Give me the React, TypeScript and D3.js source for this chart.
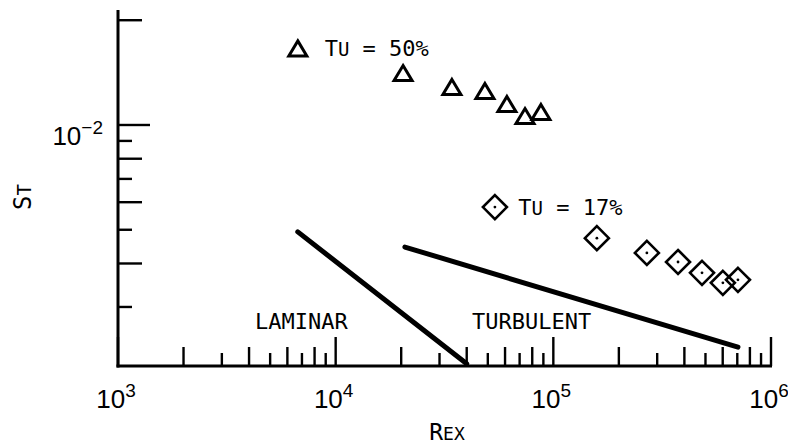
import * as d3 from "d3";

// Tick decades and their exponent labels
const xMajor = [1e3, 1e4, 1e5, 1e6];
const xExponents = ["3", "4", "5", "6"];
const yMajor = [1e-2];
const yExponents = ["\u22122"];

// Tu = 50% (triangles)
const tu50Re = [20400, 34200, 48500, 61200, 74100, 87700];
const tu50St = [0.0141, 0.01286, 0.01252, 0.01149, 0.01061, 0.0109];

// Tu = 17% (diamonds)
const tu17Re = [158500, 269000, 374000, 482000, 601000, 705000];
const tu17St = [0.00473, 0.00429, 0.00404, 0.00376, 0.00352, 0.00359];

// correlation lines
const laminarRe = [6700, 40000];
const laminarSt = [0.00493, 0.00206];
const turbulentRe = [20800, 705000];
const turbulentSt = [0.00446, 0.0023];

// annotations: [Re, St, text]
const regionLabels: [number, number, string][] = [
    [4260, 0.00259, "LAMINAR"],
    [42300, 0.00259, "TURBULENT"],
];
const legendItems = [
    { re: 6700, st: 0.0166, textRe: 8900, shape: "triangle", value: " = 50%" },
    { re: 53900, st: 0.00581, textRe: 69000, shape: "diamond", value: " = 17%" },
];

const mono = "'DejaVu Sans Mono', monospace";
const numFont = "'Liberation Sans', Arial, sans-serif";

function Triangle({ x, y }: { x: number; y: number }) {
    return (
        <path
            d={`M${x},${y - 7.5}L${x + 9},${y + 7.5}L${x - 9},${y + 7.5}Z`}
            fill="none"
            stroke="#000"
            strokeWidth={3}
        />
    );
}

function Diamond({ x, y }: { x: number; y: number }) {
    const r = 12;
    return (
        <g>
            <path
                d={`M${x},${y - r}L${x + r},${y}L${x},${y + r}L${x - r},${y}Z`}
                fill="none"
                stroke="#000"
                strokeWidth={2.6}
            />
            <circle cx={x} cy={y} r={1.4} fill="#000" />
        </g>
    );
}

export default function App({
    width = 788,
    height = 446,
    marginTop = 10,
    marginLeft = 118,
    plotRight = 771,
    plotBottom = 366,
}) {
    const xScale = d3.scaleLog().domain([1e3, 1e6]).range([marginLeft, plotRight]);
    const yScale = d3.scaleLog().domain([2.03e-3, 2.14e-2]).range([plotBottom, marginTop]);

    const leadDigit = (v: number) => Math.round(v / Math.pow(10, Math.floor(Math.log10(v) + 1e-9)));
    const xTickLen = (v: number) => {
        const k = leadDigit(v);
        return k === 1 || k === 10 ? 29 : k % 2 === 0 ? 19 : 13;
    };
    const yTickLen = (v: number) => {
        const k = leadDigit(v);
        return k === 1 || k === 10 ? 32 : k % 2 === 0 ? 24 : 14;
    };

    const line = d3.line<[number, number]>()
        .x(d => xScale(d[0]))
        .y(d => yScale(d[1]));

    const laminar = laminarRe.map((r, i) => [r, laminarSt[i]] as [number, number]);
    const turbulent = turbulentRe.map((r, i) => [r, turbulentSt[i]] as [number, number]);

    return (
        <div style={{ position: "absolute", left: 0, top: 0 }}>
            <svg width={width} height={height} viewBox={`0 0 ${width} ${height}`} style={{ display: "block", background: "#fff" }}>
                {/* x ticks */}
                {xScale.ticks().map((t, i) => (
                    <line key={`xt${i}`} x1={xScale(t)} x2={xScale(t)} y1={plotBottom} y2={plotBottom - xTickLen(t)}
                          stroke="#000" strokeWidth={2.4} />
                ))}
                {/* y ticks */}
                {yScale.ticks().map((t, i) => (
                    <line key={`yt${i}`} x1={marginLeft} x2={marginLeft + yTickLen(t)} y1={yScale(t)} y2={yScale(t)}
                          stroke="#000" strokeWidth={2.4} />
                ))}
                {/* axes */}
                <line x1={marginLeft} x2={marginLeft} y1={marginTop} y2={plotBottom + 1.5} stroke="#000" strokeWidth={3} />
                <line x1={marginLeft - 1.5} x2={plotRight + 1} y1={plotBottom} y2={plotBottom} stroke="#000" strokeWidth={3} />

                {/* x tick labels */}
                {xMajor.map((v, i) => (
                    <text key={`xl${i}`} x={xScale(v) - 2} y={plotBottom + 42} textAnchor="middle"
                          fontFamily={numFont} fontSize={26} fill="#000">
                        10<tspan fontSize={19} dy={-11}>{xExponents[i]}</tspan>
                    </text>
                ))}
                {/* y tick labels */}
                {yMajor.map((v, i) => (
                    <text key={`yl${i}`} x={marginLeft - 15} y={yScale(v) + 20} textAnchor="end"
                          fontFamily={numFont} fontSize={26} fill="#000">
                        10<tspan fontSize={19} dy={-11}>{yExponents[i]}</tspan>
                    </text>
                ))}

                {/* axis titles */}
                <text x={447} y={440} textAnchor="middle" fontFamily={mono} fontSize={23} fill="#000">
                    R<tspan fontSize={18}>EX</tspan>
                </text>
                <text transform={`translate(31,197) rotate(-90)`} textAnchor="middle" fontFamily={mono} fontSize={24} fill="#000">
                    S<tspan fontSize={19}>T</tspan>
                </text>

                {/* correlation lines */}
                <path d={line(laminar) ?? ""} fill="none" stroke="#000" strokeWidth={5} strokeLinecap="round" />
                <path d={line(turbulent) ?? ""} fill="none" stroke="#000" strokeWidth={5} strokeLinecap="round" />

                {/* region labels */}
                {regionLabels.map(([re, st, label], i) => (
                    <text key={`rl${i}`} x={xScale(re)} y={yScale(st)} fontFamily={mono} fontSize={22} fill="#000">
                        {label}
                    </text>
                ))}

                {/* data */}
                {tu50Re.map((r, i) => (
                    <Triangle key={`a${i}`} x={xScale(r)} y={yScale(tu50St[i])} />
                ))}
                {tu17Re.map((r, i) => (
                    <Diamond key={`b${i}`} x={xScale(r)} y={yScale(tu17St[i])} />
                ))}

                {/* legend */}
                {legendItems.map((d, i) => (
                    <g key={`lg${i}`}>
                        {d.shape === "triangle"
                            ? <Triangle x={xScale(d.re)} y={yScale(d.st)} />
                            : <Diamond x={xScale(d.re)} y={yScale(d.st)} />}
                        <text x={xScale(d.textRe)} y={yScale(d.st) + 8} fontFamily={mono} fontSize={22} fill="#000">
                            T<tspan fontSize={19}>U</tspan>{d.value}
                        </text>
                    </g>
                ))}
            </svg>
        </div>
    );
}
